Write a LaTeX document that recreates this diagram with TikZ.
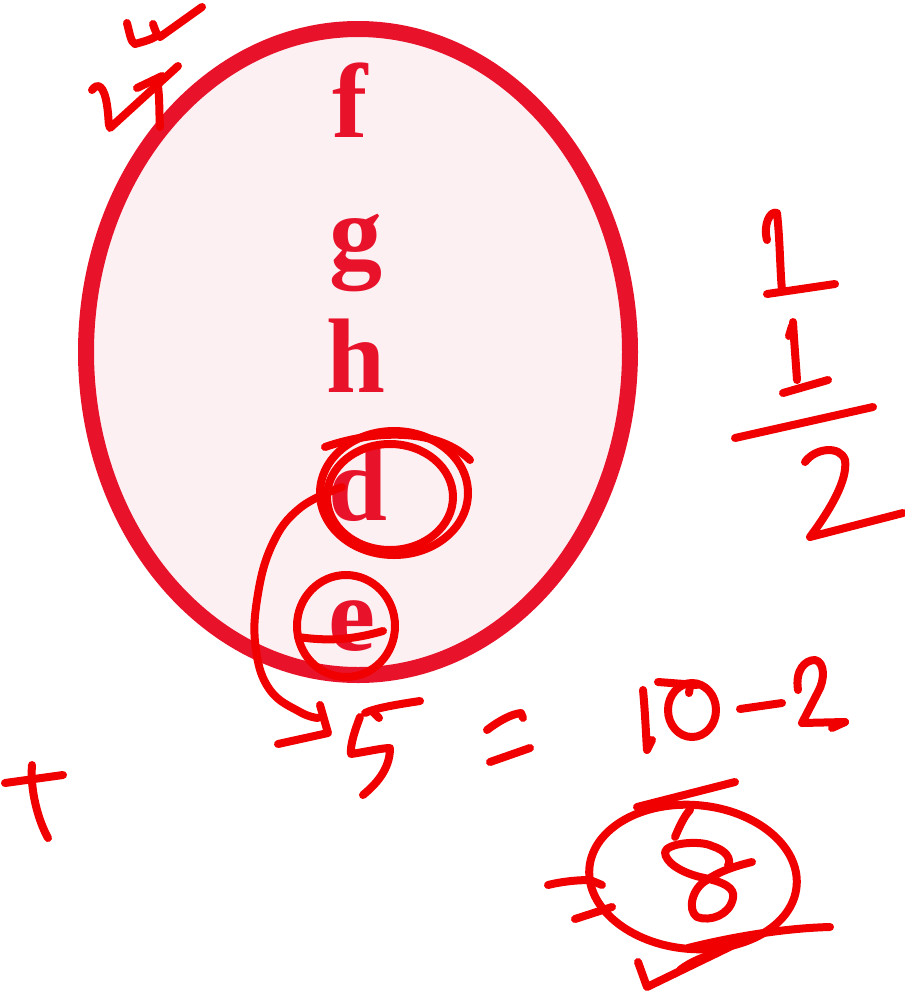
\documentclass[tikz,border=0pt]{standalone}
\usepackage{fontspec}
\setmainfont{Liberation Serif}
\usetikzlibrary{shapes.geometric}
\definecolor{crim}{RGB}{232,19,42}
\definecolor{blush}{RGB}{252,240,243}
\definecolor{ink}{RGB}{240,0,0}
\begin{document}
\begin{tikzpicture}[x=1pt,y=-1pt,
  letter/.style={text=crim, font=\fontsize{106}{110}\selectfont\bfseries, anchor=base, inner sep=0pt},
  pen/.style={draw=ink, line width=8pt, line cap=round, line join=round},
  setshape/.style={draw=crim, fill=blush, line width=16pt, ellipse, inner sep=0pt}
]
\useasboundingbox (0,0) rectangle (905,991);
% the set
\node[setshape, minimum width=544pt, minimum height=646pt] (set) at (358,352) {};
\node[letter] (f) at (350,137) {f};
\node[letter] (g) at (356,268) {g};
\node[letter] (h) at (356,392) {h};
\node[letter] (d) at (358,520) {d};
\node[letter] (e) at (352,650) {e};

% circles round d and e
\draw[pen] (394,493) ellipse [x radius=74, y radius=62];
\draw[pen] (390,497) ellipse [x radius=63, y radius=53];
\draw[pen] (325,447) .. controls (380,428) and (440,430) .. (470,460);
\draw[pen] (346,626) ellipse [x radius=49, y radius=51];
\draw[pen] (298,637) .. controls (320,640) and (345,642) .. (383,631);
\fill[ink] (337,576) circle (3);

% arrow from d to 5
\coordinate (astart) at (342,487);
\coordinate (atip) at (328,733);
\draw[pen] plot[smooth, tension=0.7] coordinates {(astart) (300,508) (272,545) (257,600) (256,650) (270,690) (300,712) (318,718)};
\draw[pen] (320,705) -- (atip) -- (278,744);

% top-left scribble
\draw[pen] (92,90) .. controls (98,82) and (104,86) .. (107,105) .. controls (109,118) and (108,124) .. (110,128) -- (178,66);
\draw[pen] (137,88) -- (162,76);
\draw[pen] (157,80) .. controls (160,95) and (159,115) .. (160,127);
\draw[pen] (127,23) .. controls (130,35) and (131,42) .. (135,44) .. controls (142,42) and (150,40) .. (155,37);
\draw[pen] (153,24) .. controls (155,30) and (157,36) .. (160,37) -- (202,7);

% fraction 1 1/2
\draw[pen] (767,240) .. controls (763,225) and (770,210) .. (777,213) .. controls (780,240) and (780,270) .. (782,290);
\draw[pen] (767,294) -- (835,284);
\draw[pen] (793,322) .. controls (794,340) and (796,365) .. (797,380);
\draw[pen] (789,336) -- (792,326);
\draw[pen] (783,393) -- (828,380);
\draw[pen] (735,438) -- (873,407);
\draw[pen] (805,462) .. controls (815,448) and (840,445) .. (845,460) .. controls (848,480) and (830,510) .. (810,537) -- (903,513);

% plus at left
\draw[pen] (5,783) -- (63,775);
\draw[pen] (32,765) .. controls (30,790) and (38,820) .. (48,838);

% 5
\draw[pen] (420,701) .. controls (400,704) and (375,708) .. (365,713);
\draw[pen] (372,711) -- (379,718);
\draw[pen] (360,717) .. controls (355,730) and (350,745) .. (351,754) .. controls (365,752) and (382,748) .. (390,748) .. controls (390,770) and (375,785) .. (363,795);

% =
\draw[pen] (487,730) .. controls (500,720) and (512,714) .. (521,713) -- (523,718);
\draw[pen] (490,762) -- (530,748);

% 10-2
\draw[pen] (643,690) .. controls (645,710) and (646,735) .. (647,750) -- (652,740);
\draw[pen] (658,682) -- (697,685);
\draw[pen] (692,710) ellipse [x radius=24, y radius=27];
\draw[pen] (690,686) -- (689,693);
\draw[pen] (740,709) -- (782,703);
\draw[pen] (798,690) .. controls (795,670) and (805,660) .. (815,660) .. controls (825,662) and (825,680) .. (818,692) -- (802,723) -- (845,722);
\draw[pen] (832,728) -- (845,722);

% circled 8 with marks
\draw[pen] (693,877) ellipse [x radius=104, y radius=72, rotate=-5];
\draw[pen] (637,807) -- (735,782);
\draw[pen] (675,837) .. controls (680,825) and (685,815) .. (690,810);
\draw[pen] (752,862) .. controls (735,866) and (718,872) .. (707,880) .. controls (692,888) and (687,910) .. (697,917) .. controls (710,922) and (730,915) .. (733,898) .. controls (735,888) and (725,882) .. (700,877) .. controls (680,872) and (665,862) .. (665,852) .. controls (667,843) and (700,840) .. (712,846) .. controls (725,850) and (732,858) .. (728,866);
\draw[pen] (548,885) .. controls (560,882) and (575,880) .. (590,880) -- (602,885);
\draw[pen] (575,919) -- (612,907);
\draw[pen] (638,962) -- (647,987) -- (748,938);
\draw[pen] (680,970) .. controls (690,962) and (705,956) .. (717,953);
\draw[pen] (688,948) .. controls (740,935) and (790,928) .. (830,927);
\end{tikzpicture}
\end{document}
